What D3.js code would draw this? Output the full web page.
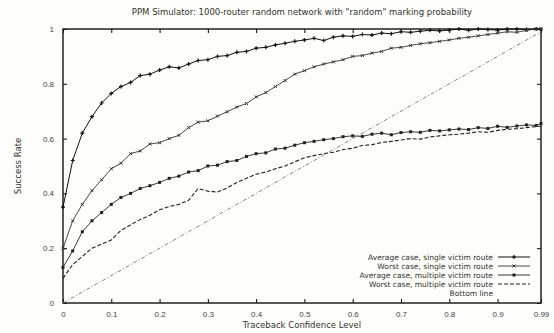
<!DOCTYPE html>
<html>
<head>
<meta charset="utf-8">
<script src="https://cdn.jsdelivr.net/npm/d3@7"></script>
<style>
  body { margin: 0; background: #fdfdf9; }
  svg { display: block; font-family: "DejaVu Sans", sans-serif; }
</style>
</head>
<body>
<div id="chart"></div>
<script>
// traceback confidence levels (x)
var levels = [0, 0.02, 0.04, 0.06, 0.08, 0.10, 0.12, 0.14, 0.16, 0.18,
  0.20, 0.22, 0.24, 0.26, 0.28, 0.30, 0.32, 0.34, 0.36, 0.38,
  0.40, 0.42, 0.44, 0.46, 0.48, 0.50, 0.52, 0.54, 0.56, 0.58,
  0.60, 0.62, 0.64, 0.66, 0.68, 0.70, 0.72, 0.74, 0.76, 0.78,
  0.80, 0.82, 0.84, 0.86, 0.88, 0.90, 0.92, 0.94, 0.96, 0.98, 0.99];

var avgSingle = [0.35, 0.52, 0.62, 0.68, 0.73, 0.765, 0.79, 0.805, 0.83, 0.835,
  0.85, 0.862, 0.858, 0.872, 0.885, 0.888, 0.9, 0.903, 0.915, 0.918,
  0.93, 0.933, 0.942, 0.948, 0.955, 0.96, 0.966, 0.958, 0.97, 0.975,
  0.973, 0.98, 0.978, 0.985, 0.983, 0.99, 0.988, 0.992, 0.995, 0.993,
  0.996, 1.0, 0.995, 1.0, 0.998, 0.996, 1.0, 1.0, 0.998, 1.0, 1.0];

var worstSingle = [0.2, 0.3, 0.36, 0.41, 0.45, 0.49, 0.51, 0.545, 0.555, 0.58,
  0.585, 0.6, 0.612, 0.64, 0.66, 0.665, 0.682, 0.698, 0.715, 0.728,
  0.752, 0.768, 0.79, 0.812, 0.835, 0.848, 0.862, 0.872, 0.88, 0.888,
  0.9, 0.903, 0.912, 0.918, 0.93, 0.933, 0.94, 0.946, 0.95, 0.955,
  0.96, 0.966, 0.97, 0.975, 0.98, 0.985, 0.99, 0.988, 0.995, 1.0, 1.0];

var avgMulti = [0.13, 0.19, 0.26, 0.3, 0.33, 0.36, 0.385, 0.4, 0.418, 0.428,
  0.44, 0.455, 0.463, 0.478, 0.483, 0.5, 0.503, 0.516, 0.52, 0.535,
  0.545, 0.548, 0.562, 0.565, 0.576, 0.585, 0.59, 0.596, 0.6, 0.607,
  0.61, 0.608, 0.616, 0.62, 0.614, 0.622, 0.625, 0.623, 0.63, 0.628,
  0.632, 0.635, 0.633, 0.64, 0.637, 0.645, 0.641, 0.646, 0.65, 0.648, 0.655];

var worstMulti = [0.09, 0.14, 0.17, 0.2, 0.215, 0.23, 0.265, 0.285, 0.305, 0.32,
  0.34, 0.352, 0.36, 0.375, 0.418, 0.408, 0.405, 0.42, 0.44, 0.455,
  0.47, 0.478, 0.49, 0.5, 0.515, 0.53, 0.538, 0.545, 0.55, 0.56,
  0.565, 0.575, 0.578, 0.586, 0.59, 0.595, 0.6, 0.598, 0.606, 0.61,
  0.614, 0.616, 0.62, 0.625, 0.623, 0.63, 0.634, 0.636, 0.64, 0.644, 0.645];

var bottomLine = [0, 0.99];
var bottomLevels = [0, 0.99];

var xTicks = [0, 0.1, 0.2, 0.3, 0.4, 0.5, 0.6, 0.7, 0.8, 0.9, 0.99];
var yTicks = [0, 0.2, 0.4, 0.6, 0.8, 1];

var seriesNames = ["Average case, single victim route", "Worst case, single victim route",
  "Average case, multiple victim route", "Worst case, multiple victim route", "Bottom line"];

var W = 554, H = 333;
var margin = { left: 63, right: 541, top: 29, bottom: 303 };

var svg = d3.select("#chart").append("svg")
  .attr("width", W).attr("height", H);

var x = d3.scaleLinear().domain([0, 0.99]).range([margin.left, margin.right]);
var y = d3.scaleLinear().domain([0, 1]).range([margin.bottom, margin.top]);
var plainFmt = function(d) { return String(d); };

// title
svg.append("text")
  .attr("x", (margin.left + margin.right) / 2).attr("y", 15)
  .attr("text-anchor", "middle").attr("font-size", 8.5).attr("fill", "#333")
  .text("PPM Simulator: 1000-router random network with \"random\" marking probability");

// axes, ticks inward on all sides
svg.append("g").attr("transform", "translate(0," + margin.bottom + ")")
  .call(d3.axisBottom(x).tickValues(xTicks).tickSize(-4).tickPadding(8).tickFormat(plainFmt))
  .call(function(g) { g.select(".domain").remove(); })
  .selectAll("text").attr("font-size", 8).attr("fill", "#444");
svg.append("g").attr("transform", "translate(0," + margin.top + ")")
  .call(d3.axisTop(x).tickValues(xTicks).tickSize(-4).tickFormat(""))
  .call(function(g) { g.select(".domain").remove(); });
svg.append("g").attr("transform", "translate(" + margin.left + ",0)")
  .call(d3.axisLeft(y).tickValues(yTicks).tickSize(-4).tickPadding(9).tickFormat(plainFmt))
  .call(function(g) { g.select(".domain").remove(); })
  .selectAll("text").attr("font-size", 8).attr("fill", "#444");
svg.append("g").attr("transform", "translate(" + margin.right + ",0)")
  .call(d3.axisRight(y).tickValues(yTicks).tickSize(-4).tickFormat(""))
  .call(function(g) { g.select(".domain").remove(); });

svg.append("rect")
  .attr("x", margin.left).attr("y", margin.top)
  .attr("width", margin.right - margin.left).attr("height", margin.bottom - margin.top)
  .attr("fill", "none").attr("stroke", "#222").attr("stroke-width", 1.5);

// axis labels
svg.append("text")
  .attr("x", (margin.left + margin.right) / 2).attr("y", 328)
  .attr("text-anchor", "middle").attr("font-size", 8.5).attr("fill", "#333")
  .text("Traceback Confidence Level");
svg.append("text")
  .attr("transform", "translate(21," + ((margin.top + margin.bottom) / 2) + ") rotate(-90)")
  .attr("text-anchor", "middle").attr("font-size", 8.5).attr("fill", "#333")
  .text("Success Rate");

var line = d3.line()
  .x(function(d) { return x(d[0]); })
  .y(function(d) { return y(d[1]); });

function pairs(xs, ys) {
  return xs.map(function(v, i) { return [v, ys[i]]; });
}

var series = [
  { name: seriesNames[0], data: pairs(levels, avgSingle), color: "#111", dash: null, width: 1, marker: "plus" },
  { name: seriesNames[1], data: pairs(levels, worstSingle), color: "#333", dash: null, width: 0.9, marker: "cross" },
  { name: seriesNames[2], data: pairs(levels, avgMulti), color: "#222", dash: null, width: 0.9, marker: "square" },
  { name: seriesNames[3], data: pairs(levels, worstMulti), color: "#222", dash: "4,2", width: 1.1, marker: null },
  { name: seriesNames[4], data: pairs(bottomLevels, bottomLine), color: "#777", dash: "4,2,1,2", width: 0.9, marker: null }
];

function drawMarker(g, type, cx, cy, color) {
  if (type == "plus") {
    g.append("path").attr("d", "M" + (cx - 2) + "," + cy + "h4M" + cx + "," + (cy - 2) + "v4")
      .attr("stroke", color).attr("stroke-width", 1.2);
  } else if (type == "cross") {
    g.append("path").attr("d", "M" + (cx - 1.5) + "," + (cy - 1.5) + "l3,3M" + (cx - 1.5) + "," + (cy + 1.5) + "l3,-3")
      .attr("stroke", color).attr("stroke-width", 1);
  } else if (type == "square") {
    g.append("rect").attr("x", cx - 1.5).attr("y", cy - 1.5).attr("width", 3).attr("height", 3)
      .attr("fill", color);
  }
}

series.forEach(function(s) {
  var g = svg.append("g");
  g.append("path").datum(s.data)
    .attr("d", line)
    .attr("fill", "none")
    .attr("stroke", s.color)
    .attr("stroke-width", s.width)
    .attr("stroke-dasharray", s.dash);
  if (s.marker) {
    s.data.forEach(function(d) { drawMarker(g, s.marker, x(d[0]), y(d[1]), s.color); });
  }
});

// legend
var leg = svg.append("g");
series.forEach(function(s, i) {
  var ly = 257 + i * 9;
  leg.append("text")
    .attr("x", 493).attr("y", ly + 3)
    .attr("text-anchor", "end").attr("font-size", 7.5).attr("fill", "#333")
    .text(s.name);
  if (i < 4) {
    leg.append("line")
      .attr("x1", 498).attr("x2", 530).attr("y1", ly).attr("y2", ly)
      .attr("stroke", s.color).attr("stroke-width", s.width)
      .attr("stroke-dasharray", s.dash);
    if (s.marker) drawMarker(leg, s.marker, 514, ly, s.color);
  }
});
</script>
</body>
</html>
